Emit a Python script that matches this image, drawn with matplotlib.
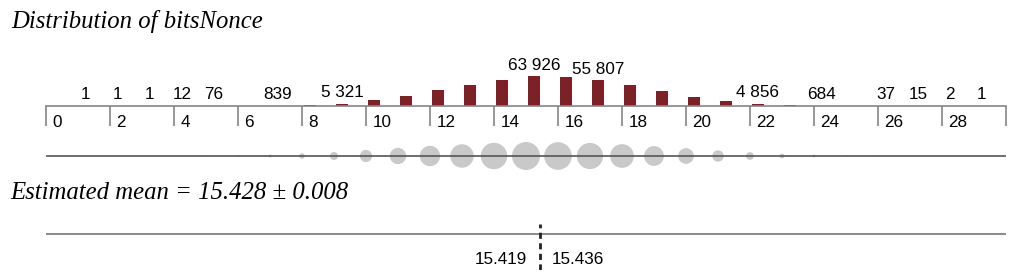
import matplotlib
matplotlib.use("Agg")
import matplotlib.pyplot as plt
import matplotlib.transforms as mtransforms
import numpy as np

# ---- data ----
bins = list(range(0, 30))
counts = [0, 1, 1, 1, 12, 76, 260, 839, 2400, 5321,
          12100, 21800, 33500, 44800, 57000, 63926, 62200, 55807, 45700, 31800,
          20100, 10600, 4856, 1900, 684, 170, 37, 15, 2, 1]
labeled_bins = [1, 2, 3, 4, 5, 7, 9, 15, 17, 22, 24, 26, 27, 28, 29]
tick_values = list(range(0, 31, 2))
tick_labels = [str(t) for t in range(0, 29, 2)] + [""]
mean_value = 15.428
mean_err = 0.008
ci_low = 15.419
ci_high = 15.436
title_top = "Distribution of bitsNonce"
title_bottom = "Estimated mean = 15.428 \u00b1 0.008"

W, H = 1024, 274
DPI = 100
fig = plt.figure(figsize=(W / DPI, H / DPI), dpi=DPI)
fig.patch.set_facecolor("white")

def px_axes(x0, x1, ytop, ybot):
    return fig.add_axes([x0 / W, 1 - ybot / H, (x1 - x0) / W, (ybot - ytop) / H])

def pt(px):
    return px * 72.0 / DPI

BAR_COLOR = "#7e2127"
AX_GRAY = "#858585"
FONT = "Liberation Sans"
FS = 12.3

# ---- titles ----
fig.text(11 / W, 1 - 28 / H, title_top, fontsize=17.8, style="italic",
         family="Liberation Serif", ha="left", va="baseline")
fig.text(10 / W, 1 - 199 / H, title_bottom, fontsize=17.8, style="italic",
         family="Liberation Serif", ha="left", va="baseline")

# ---- histogram bars ----
ax = px_axes(46, 1006, 40, 106)
ymax_scale = 63926 * 66 / 29.7
ax.set_xlim(0, 30)
ax.set_ylim(0, ymax_scale)
xb = np.array(bins) + 0.25
ax.bar(xb, counts, width=0.36, color=BAR_COLOR, clip_on=False, zorder=2)
for b in labeled_bins:
    txt = f"{counts[b]:,}".replace(",", " ")
    ax.annotate(txt, xy=(b + 0.25, counts[b]), xytext=(0, pt(6.5)),
                textcoords="offset points", ha="center", va="baseline",
                fontsize=FS, family=FONT, color="black")
for s in ["top", "left", "right"]:
    ax.spines[s].set_visible(False)
ax.spines["bottom"].set_color(AX_GRAY)
ax.spines["bottom"].set_linewidth(1.2)
ax.set_yticks([])
ax.set_xticks(tick_values)
ax.tick_params(axis="x", direction="out", length=pt(20), width=1.2,
               color=AX_GRAY, labelbottom=False)
ax.patch.set_alpha(0)
trans = mtransforms.blended_transform_factory(ax.transData, ax.transAxes)
for t, lab in zip(tick_values, tick_labels):
    off = mtransforms.ScaledTranslation(6.5 / DPI, -21 / DPI, fig.dpi_scale_trans)
    ax.text(t, 0, lab, transform=trans + off, ha="left", va="baseline",
            fontsize=FS, family=FONT, color="black")

# ---- dot strip ----
ax2 = px_axes(46, 1006, 136, 176)
ax2.set_xlim(0, 30)
ax2.set_ylim(-1, 1)
max_d_pt = pt(28)
sizes = np.array(counts) / max(counts) * max_d_pt ** 2
ax2.scatter(bins, np.zeros(len(bins)), s=sizes, color="#c9c9c9",
            edgecolors="none", clip_on=False, zorder=1)
ax2.axhline(0, color="#555555", lw=1.2, zorder=2)
ax2.axis("off")

# ---- estimated mean strip ----
ax3 = px_axes(46, 1006, 224, 270)
ax3.set_xlim(0, 30)
ax3.set_ylim(0, 46)
ax3.axhline(36, color="#777777", lw=1.2)
ax3.axvline(mean_value, ymin=0, ymax=1, color="#222222", lw=2,
            linestyle=(0, (2.2, 1.6)))
t3 = mtransforms.blended_transform_factory(ax3.transData, ax3.transAxes)
offL = mtransforms.ScaledTranslation(-12 / DPI, 6 / DPI, fig.dpi_scale_trans)
offR = mtransforms.ScaledTranslation(12 / DPI, 6 / DPI, fig.dpi_scale_trans)
ax3.text(ci_low, 0, f"{ci_low:.3f}", transform=t3 + offL, ha="right",
         va="baseline", fontsize=FS, family=FONT)
ax3.text(ci_high, 0, f"{ci_high:.3f}", transform=t3 + offR, ha="left",
         va="baseline", fontsize=FS, family=FONT)
ax3.axis("off")

fig.savefig("out.png", dpi=DPI, facecolor="white")
